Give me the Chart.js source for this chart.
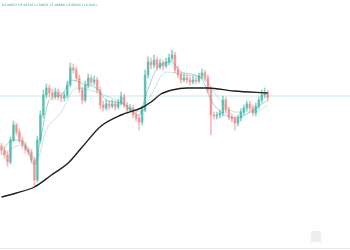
<!DOCTYPE html>
<html>
<head>
<meta charset="utf-8">
<script src="https://cdn.jsdelivr.net/npm/chart.js@4/dist/chart.umd.min.js"></script>
<style>
    html, body { margin: 0; padding: 0; background: #fff; }
    #wrap { position: relative; width: 350px; height: 250px; overflow: hidden; }
    #legend {
        position: absolute; left: 2px; top: 3px;
        font: 3px "DejaVu Sans", sans-serif; color: #26a69a;
        white-space: nowrap; letter-spacing: 0.05px;
    }
    #baseline { position: absolute; left: 0; right: 0; top: 248px; height: 1px; background: #e6e6e6; }
    #logo { position: absolute; left: 311px; top: 231px; width: 10px; height: 11px; background: #eeeeee; }
</style>
</head>
<body>
<div id="wrap">
    <canvas id="chart" width="350" height="250"></canvas>
    <div id="legend">O1.08652 H1.08710 L1.08631 C1.08690 +0.00038 (+0.04%)</div>
    <div id="baseline"></div>
    <div id="logo"></div>
</div>
<script>
// candles (index = bar number)
const opens = [104,100,95,88,110,125,118,110,105,100, 98,90,70,110,135,155,162,157,154,158,
    153,152,155,165,182,180,172,160,150,165, 172,168,170,160,145,142,146,144,146,143,
    147,153,145,140,142,135,132,128,140,175, 188,185,190,183,187,184,188,192,195,180,
    175,170,172,170,168,170,169,174,177,172, 160,135,134,135,137,150,140,133,131,127,
    132,138,142,146,142,137,144,150,155,157];
const closes = [100,95,88,110,125,118,110,105,100,98, 90,70,110,135,155,162,157,154,158,153,
    152,155,165,182,180,172,160,150,165,172, 168,170,160,145,142,146,144,146,143,147,
    153,145,140,142,135,132,128,140,175,188, 185,190,183,187,184,188,192,195,180,175,
    170,172,170,168,170,169,174,177,172,160, 135,134,135,137,150,140,133,131,127,132,
    138,142,146,142,137,144,150,155,157,152];
const highs = [107,103,98,113,129,127,121,113,108,103, 101,93,114,139,160,166,165,161,162,161,
    157,158,169,187,186,183,175,163,169,176, 175,174,173,163,149,150,149,150,149,151,
    158,156,148,146,145,138,135,144,180,193, 192,195,193,191,190,192,196,200,198,184,
    178,176,175,173,174,173,177,181,180,175, 163,138,138,140,154,153,143,136,134,135,
    141,145,149,149,145,147,153,160,162,160];
const lows = [96,92,84,86,108,115,107,102,97,95, 87,63,68,107,132,152,153,150,151,150,
    148,149,152,163,177,169,157,146,148,162, 165,165,157,141,139,140,141,142,140,141,
    145,142,137,138,132,129,120,125,138,172, 181,182,180,181,180,182,185,189,177,172,
    167,168,167,165,166,166,167,171,169,157, 115,131,131,132,134,137,130,128,120,124,
    129,135,139,139,134,134,141,147,152,149];

// moving averages, sampled points [bar, value]
const maSlowBlack = [[0,53],[5,57],[11,63],[16.7,75],[22.3,87],[26.7,102],[33.3,124],[40,135],
    [46.7,142],[50,148],[53.3,156],[57,160],[62,162],[69,162],[77.7,159],[89,157]];
const maFast = [[0,100],[4,110],[8,105],[11,85],[13.3,115],[16,150],[20,155],[23.3,170],[28.3,165],
    [31.7,162],[35,150],[40,147],[46,135],[48.3,155],[51.7,180],[56.7,188],[60,178],[66.7,172],
    [70,150],[73.3,138],[78.3,132],[83.3,138],[89,150]];
const maMid = [[0,95],[6.7,105],[11.7,90],[15,120],[20,138],[25,162],[31.7,158],[38.3,150],
    [46.7,138],[50,155],[55,178],[61.7,175],[68.3,170],[71.7,155],[78.3,138],[85,138],[89,145]];
const lastPrice = 154;

const UP = 'rgba(38,166,154,0.5)';
const DOWN = 'rgba(239,83,80,0.4)';
const colors = closes.map((c, i) => c >= opens[i] ? UP : DOWN);
const pts = arr => arr.map(p => ({ x: p[0], y: p[1] }));

new Chart(document.getElementById('chart'), {
    type: 'bar',
    data: {
        datasets: [
            { type: 'line', data: pts(maSlowBlack), borderColor: '#1e1e1e', borderWidth: 1.4,
              pointRadius: 0, cubicInterpolationMode: 'monotone', order: 0 },
            { type: 'line', data: pts(maFast), borderColor: 'rgba(38,166,154,0.45)', borderWidth: 1,
              pointRadius: 0, cubicInterpolationMode: 'monotone', order: 1 },
            { type: 'line', data: pts(maMid), borderColor: 'rgba(38,166,154,0.28)', borderWidth: 1,
              pointRadius: 0, cubicInterpolationMode: 'monotone', order: 2 },
            { data: opens.map((o, i) => ({ x: i, y: [o, closes[i]] })), backgroundColor: colors,
              barThickness: 2, grouped: false, order: 3 },
            { data: lows.map((l, i) => ({ x: i, y: [l, highs[i]] })), backgroundColor: colors,
              barThickness: 1, grouped: false, order: 4 },
            { type: 'line', data: [{ x: -1, y: lastPrice }, { x: 120, y: lastPrice }],
              borderColor: 'rgba(38,166,154,0.25)', borderWidth: 1, pointRadius: 0, order: 5 }
        ]
    },
    options: {
        responsive: false,
        animation: false,
        layout: { padding: 0 },
        plugins: { legend: { display: false }, tooltip: { enabled: false } },
        scales: {
            x: { type: 'linear', min: -0.5, max: 116.5, offset: false, display: false },
            y: { min: 0, max: 250, display: false }
        }
    }
});
</script>
</body>
</html>
